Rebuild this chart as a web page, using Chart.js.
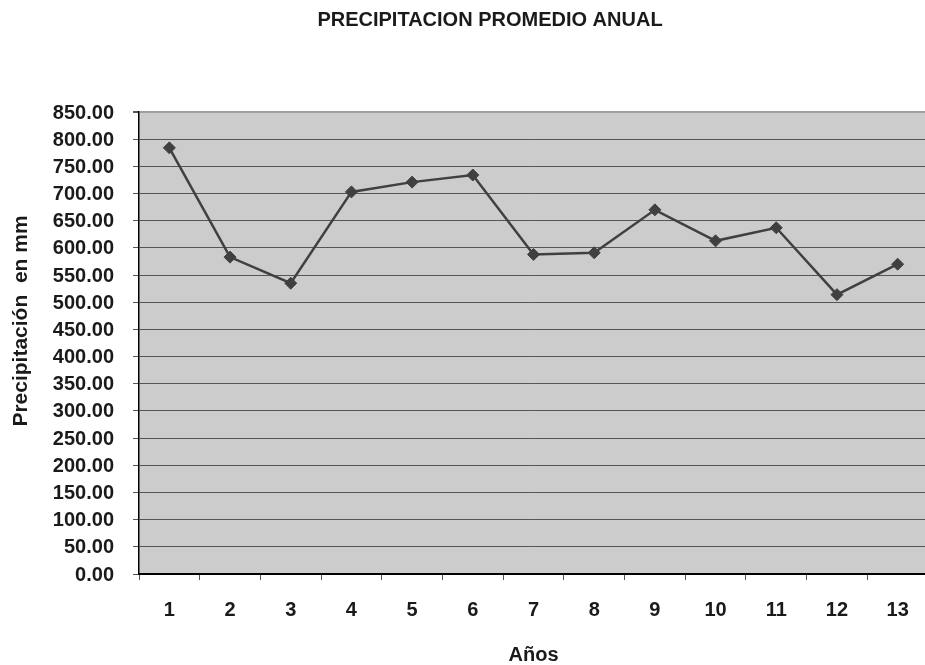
<!DOCTYPE html>
<html lang="es">
<head>
    <meta charset="UTF-8">
    <title>Precipitacion promedio anual</title>
    <script src="https://cdn.jsdelivr.net/npm/chart.js"></script>
    <style>
        html, body {
            margin: 0;
            padding: 0;
            background: #ffffff;
            overflow: hidden;
        }
        #wrap {
            width: 935px;
            height: 665px;
        }
    </style>
</head>
<body>
    <div id="wrap">
        <canvas id="lluviaChart" width="935" height="665"></canvas>
    </div>

    <script>
        // datos
        const years = ["1", "2", "3", "4", "5", "6", "7", "8", "9", "10", "11", "12", "13"];
        const rainfall = [784, 583, 535, 703, 721, 734, 588, 591, 670, 613, 637, 514, 570];
        const yTicks = [0, 50, 100, 150, 200, 250, 300, 350, 400, 450, 500, 550, 600, 650, 700, 750, 800, 850];

        const chartTitle = "PRECIPITACION PROMEDIO ANUAL";
        const yTitle = "Precipitación  en mm";
        const xTitle = "Años";

        const FONT = "'Liberation Sans', Arial, sans-serif";

        // fondo gris del area de trazado y textos
        const decor = {
            id: "decor",
            beforeDraw(chart) {
                const { ctx, chartArea } = chart;
                ctx.save();
                ctx.fillStyle = "#cccccc";
                ctx.fillRect(chartArea.left, chartArea.top, chartArea.right - chartArea.left, chartArea.bottom - chartArea.top);
                ctx.restore();
            },
            afterDraw(chart) {
                const { ctx, chartArea } = chart;
                ctx.save();
                ctx.fillStyle = "#1a1a1a";
                ctx.font = "bold 20px " + FONT;
                ctx.textAlign = "center";
                ctx.textBaseline = "alphabetic";
                ctx.fillText(chartTitle, 490, 26);

                ctx.fillText(xTitle, (chartArea.left + chartArea.right) / 2, 661);

                ctx.font = "bold 21px " + FONT;
                ctx.translate(27, 321);
                ctx.rotate(-Math.PI / 2);
                ctx.fillText(yTitle, 0, 0);
                ctx.restore();
            }
        };

        new Chart(document.getElementById("lluviaChart"), {
            type: "line",
            data: {
                labels: years,
                datasets: [{
                    data: rainfall,
                    borderColor: "#404040",
                    backgroundColor: "#404040",
                    borderWidth: 2.5,
                    pointStyle: "rectRot",
                    pointRadius: 6,
                    pointBorderWidth: 1,
                    pointBorderColor: "#404040",
                    pointBackgroundColor: "#404040",
                    tension: 0,
                    fill: false
                }]
            },
            options: {
                responsive: false,
                animation: false,
                layout: { padding: { top: 112, right: 5, left: 0, bottom: 0 } },
                plugins: {
                    legend: { display: false },
                    tooltip: { enabled: false }
                },
                scales: {
                    x: {
                        offset: true,
                        afterFit: s => { s.height = 91; },
                        grid: {
                            offset: true,
                            drawOnChartArea: false,
                            tickLength: 6,
                            tickColor: "#555555"
                        },
                        border: { color: "#000000", width: 2 },
                        ticks: {
                            color: "#1a1a1a",
                            font: { family: FONT, size: 20, weight: "bold" },
                            padding: 18,
                            maxRotation: 0
                        }
                    },
                    y: {
                        min: 0,
                        max: 850,
                        afterFit: s => { s.width = 139; },
                        afterBuildTicks: s => { s.ticks = yTicks.map(v => ({ value: v })); },
                        grid: {
                            color: c => (c.tick && c.tick.value === 850) ? "#a0a0a0" : "#555555",
                            lineWidth: c => (c.tick && c.tick.value === 850) ? 2 : 1,
                            tickLength: 6,
                            tickColor: "#555555"
                        },
                        border: { color: "#000000", width: 1.5 },
                        ticks: {
                            color: "#1a1a1a",
                            font: { family: FONT, size: 20, weight: "bold" },
                            padding: 19,
                            labelOffset: 1,
                            callback: v => Number(v).toFixed(2)
                        }
                    }
                }
            },
            plugins: [decor]
        });
    </script>
</body>
</html>
